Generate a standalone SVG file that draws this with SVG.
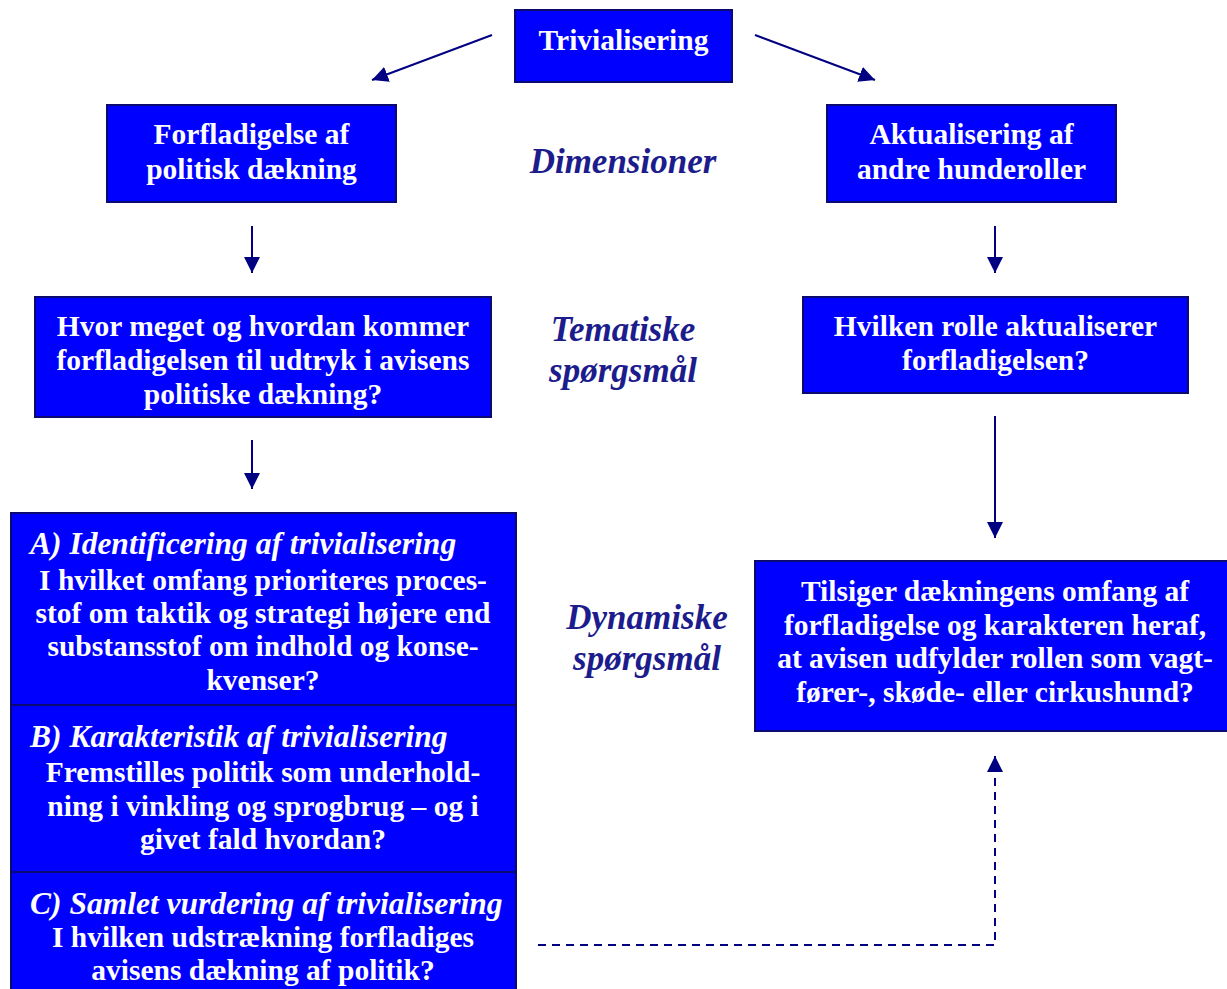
<svg xmlns="http://www.w3.org/2000/svg" width="1227" height="989" viewBox="0 0 1227 989">
<defs>
<style>
.box{fill:#0000FF;stroke:#0A0A70;stroke-width:2}
.t{font-family:"Liberation Serif","Times New Roman",serif;font-weight:bold;font-size:29.5px;fill:#FFFFFF;text-anchor:middle}
.ti{font-family:"Liberation Serif","Times New Roman",serif;font-weight:bold;font-style:italic;font-size:31.5px;fill:#FFFFFF}
.lab{font-family:"Liberation Serif","Times New Roman",serif;font-weight:bold;font-style:italic;font-size:35px;fill:#1C1C8C;text-anchor:middle}
.con{stroke:#000080;stroke-width:2;fill:none}
.dash{stroke:#000080;stroke-width:2;fill:none;stroke-dasharray:8,6}
</style>
<marker id="ah" markerUnits="userSpaceOnUse" markerWidth="18" markerHeight="16" refX="16" refY="8" orient="auto">
<path d="M0,0 L16,8 L0,16 Z" fill="#000080"/>
</marker>
<clipPath id="c2"><rect x="35" y="297" width="456" height="120"/></clipPath>
</defs>

<g id="connectors">
<line class="con" x1="492" y1="35" x2="372" y2="80" marker-end="url(#ah)"/>
<line class="con" x1="755" y1="35" x2="875" y2="80" marker-end="url(#ah)"/>
<line class="con" x1="252" y1="226" x2="252" y2="273" marker-end="url(#ah)"/>
<line class="con" x1="995" y1="226" x2="995" y2="273" marker-end="url(#ah)"/>
<line class="con" x1="252" y1="440" x2="252" y2="489" marker-end="url(#ah)"/>
<line class="con" x1="995" y1="416" x2="995" y2="538" marker-end="url(#ah)"/>
<polyline class="dash" points="538,945 995,945 995,756" marker-end="url(#ah)"/>
</g>

<g id="trivialisering">
<rect class="box" x="515" y="10" width="217" height="72"/>
<text class="t" x="623.5" y="50">Trivialisering</text>
</g>

<g id="forfladigelse">
<rect class="box" x="107" y="105" width="289" height="97"/>
<text class="t" x="251.5" y="144">Forfladigelse af</text>
<text class="t" x="251.5" y="179">politisk dækning</text>
</g>

<g id="aktualisering">
<rect class="box" x="827" y="105" width="289" height="97"/>
<text class="t" x="971.5" y="144">Aktualisering af</text>
<text class="t" x="971.5" y="179">andre hunderoller</text>
</g>

<g id="label-dimensioner">
<text class="lab" x="623" y="173">Dimensioner</text>
</g>

<g id="hvor-meget">
<rect class="box" x="35" y="297" width="456" height="120"/>
<g clip-path="url(#c2)">
<text class="t" x="263" y="336">Hvor meget og hvordan kommer</text>
<text class="t" x="263" y="370">forfladigelsen til udtryk i avisens</text>
<text class="t" x="263" y="404">politiske dækning?</text>
</g>
</g>

<g id="label-tematiske">
<text class="lab" x="623" y="341">Tematiske</text>
<text class="lab" x="623" y="382">spørgsmål</text>
</g>

<g id="hvilken-rolle">
<rect class="box" x="803" y="297" width="385" height="96"/>
<text class="t" x="995.5" y="336">Hvilken rolle aktualiserer</text>
<text class="t" x="995.5" y="370">forfladigelsen?</text>
</g>

<g id="dynamiske-box">
<rect class="box" x="11" y="513" width="505" height="192"/>
<rect class="box" x="11" y="705" width="505" height="167"/>
<rect class="box" x="11" y="872" width="505" height="130"/>
<text class="ti" x="30" y="554">A) Identificering af trivialisering</text>
<text class="t" x="263" y="590">I hvilket omfang prioriteres proces-</text>
<text class="t" x="263" y="623">stof om taktik og strategi højere end</text>
<text class="t" x="263" y="656">substansstof om indhold og konse-</text>
<text class="t" x="263" y="690">kvenser?</text>
<text class="ti" x="30" y="747">B) Karakteristik af trivialisering</text>
<text class="t" x="263" y="782">Fremstilles politik som underhold-</text>
<text class="t" x="263" y="816">ning i vinkling og sprogbrug – og i</text>
<text class="t" x="263" y="849">givet fald hvordan?</text>
<text class="ti" x="30" y="914">C) Samlet vurdering af trivialisering</text>
<text class="t" x="263" y="947">I hvilken udstrækning forfladiges</text>
<text class="t" x="263" y="980">avisens dækning af politik?</text>
</g>

<g id="label-dynamiske">
<text class="lab" x="647" y="629">Dynamiske</text>
<text class="lab" x="647" y="670">spørgsmål</text>
</g>

<g id="tilsiger">
<rect class="box" x="755" y="561" width="480" height="170"/>
<text class="t" x="995" y="601">Tilsiger dækningens omfang af</text>
<text class="t" x="995" y="635">forfladigelse og karakteren heraf,</text>
<text class="t" x="995" y="668">at avisen udfylder rollen som vagt-</text>
<text class="t" x="995" y="702">fører-, skøde- eller cirkushund?</text>
</g>
</svg>
